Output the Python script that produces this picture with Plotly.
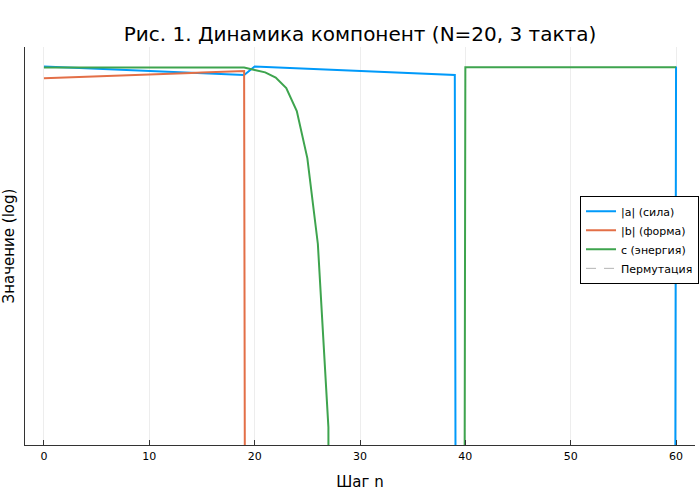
import plotly.graph_objects as go

steps = list(range(61))

# |a| (сила)
a_vals = [1.00, 0.95, 0.90, 0.85, 0.81, 0.77, 0.73, 0.69, 0.65, 0.62,
          0.59, 0.56, 0.53, 0.50, 0.47, 0.45, 0.43, 0.40, 0.38, 0.37,
          1.00, 0.95, 0.90, 0.85, 0.81, 0.77, 0.73, 0.69, 0.65, 0.62,
          0.59, 0.56, 0.53, 0.50, 0.47, 0.45, 0.43, 0.40, 0.38, 0.37,
          1e-300, 1e-300, 1e-300, 1e-300, 1e-300, 1e-300, 1e-300, 1e-300, 1e-300, 1e-300,
          1e-300, 1e-300, 1e-300, 1e-300, 1e-300, 1e-300, 1e-300, 1e-300, 1e-300, 1e-300,
          1.00]

# |b| (форма)
b_vals = [0.25, 0.26, 0.27, 0.29, 0.30, 0.31, 0.33, 0.34, 0.36, 0.38,
          0.39, 0.41, 0.43, 0.45, 0.47, 0.49, 0.52, 0.54, 0.57, 0.59,
          1e-300, 1e-300, 1e-300, 1e-300, 1e-300, 1e-300, 1e-300, 1e-300, 1e-300, 1e-300,
          1e-300, 1e-300, 1e-300, 1e-300, 1e-300, 1e-300, 1e-300, 1e-300, 1e-300, 1e-300,
          1e-300, 1e-300, 1e-300, 1e-300, 1e-300, 1e-300, 1e-300, 1e-300, 1e-300, 1e-300,
          1e-300, 1e-300, 1e-300, 1e-300, 1e-300, 1e-300, 1e-300, 1e-300, 1e-300, 1e-300,
          1e-300]

# c (энергия)
c_vals = [0.89, 0.89, 0.89, 0.89, 0.89, 0.89, 0.89, 0.89, 0.89, 0.89,
          0.89, 0.89, 0.89, 0.89, 0.89, 0.89, 0.89, 0.89, 0.89, 0.89,
          0.66, 0.50, 0.27, 0.079, 5.2e-3, 2.0e-5, 7.9e-10, 3.2e-19, 1e-300, 1e-300,
          1e-300, 1e-300, 1e-300, 1e-300, 1e-300, 1e-300, 1e-300, 1e-300, 1e-300, 1e-300,
          0.91, 0.91, 0.91, 0.91, 0.91, 0.91, 0.91, 0.91, 0.91, 0.91,
          0.91, 0.91, 0.91, 0.91, 0.91, 0.91, 0.91, 0.91, 0.91, 0.91,
          0.91]

x_ticks = [0, 10, 20, 30, 40, 50, 60]

FONT = "DejaVu Sans"

fig = go.Figure()
fig.add_trace(go.Scatter(x=steps, y=a_vals, mode="lines", name="|a| (сила)",
                         line=dict(color="#009AFA", width=2)))
fig.add_trace(go.Scatter(x=steps, y=b_vals, mode="lines", name="|b| (форма)",
                         line=dict(color="#E36F47", width=2)))
fig.add_trace(go.Scatter(x=steps, y=c_vals, mode="lines", name="c (энергия)",
                         line=dict(color="#3EA44E", width=2)))
fig.add_trace(go.Scatter(x=[None], y=[None], mode="lines", name="Пермутация",
                         line=dict(color="rgba(128,128,128,0.6)", width=1, dash="10px,8px")))

fig.update_layout(
    width=700, height=500,
    margin=dict(l=25, r=5, t=47, b=55, autoexpand=False),
    paper_bgcolor="white", plot_bgcolor="white",
    font=dict(family=FONT, color="black"),
    title=dict(text="Рис. 1. Динамика компонент (N=20, 3 такта)",
               xref="paper", x=0.5, xanchor="center", y=0.932, yanchor="middle",
               font=dict(size=20, family=FONT)),
    showlegend=True,
    legend=dict(x=1.006, y=0.626, xanchor="right", yanchor="top",
                bordercolor="black", borderwidth=1, bgcolor="white",
                itemwidth=30,
                font=dict(size=11, family=FONT), tracegroupgap=0),
)
fig.update_xaxes(range=[-1.8, 61.8], tickvals=x_ticks, ticks="inside", ticklen=5,
                 tickcolor="#333", tickfont=dict(size=11), ticklabelstandoff=1,
                 showgrid=True, gridcolor="rgba(0,0,0,0.07)", gridwidth=1,
                 showline=True, linecolor="#333", linewidth=1, zeroline=False,
                 automargin=False,
                 title=dict(text="Шаг n", font=dict(size=15), standoff=14))
fig.update_yaxes(type="log", range=[-19.41, 1.0], showticklabels=False, ticks="",
                 showgrid=False, showline=True, linecolor="#333", linewidth=1,
                 zeroline=False, automargin=False,
                 title=dict(text="Значение (log)", font=dict(size=15), standoff=8))

fig.write_html("out.html",
               config={"displayModeBar": False},
               post_script="document.body.style.margin='0';document.body.style.overflow='hidden';")
